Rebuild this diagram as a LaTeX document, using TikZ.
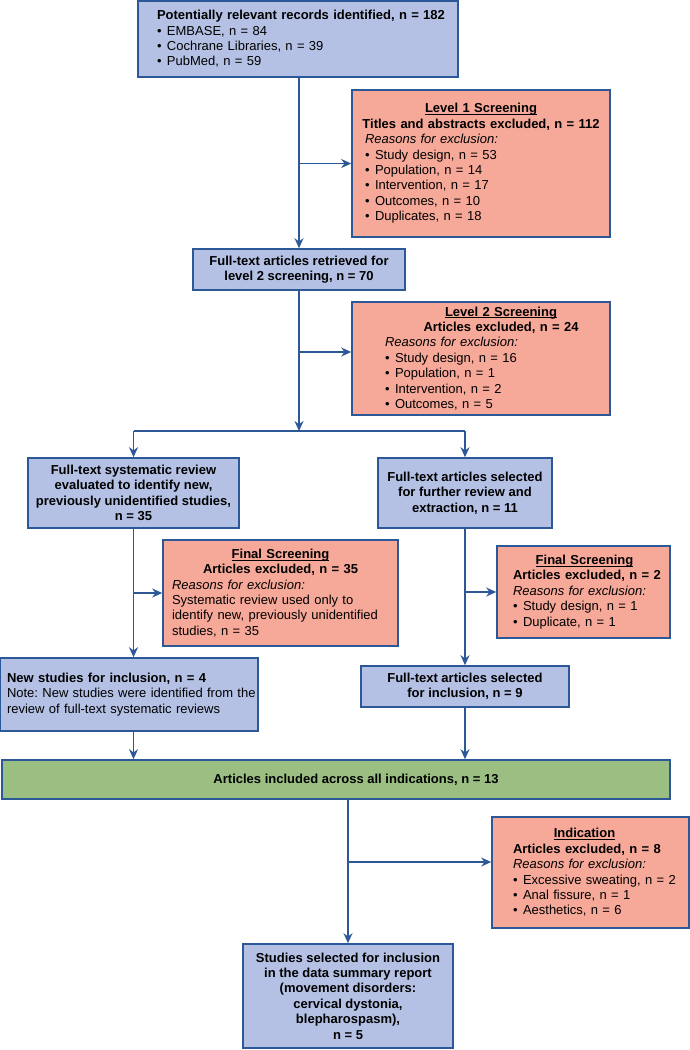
\documentclass[tikz,border=0pt]{standalone}
\usepackage{fontspec}
\setmainfont{Liberation Sans}
\usetikzlibrary{arrows.meta,positioning}
\definecolor{boxblue}{RGB}{180,193,228}
\definecolor{edgeblue}{RGB}{44,88,152}
\definecolor{exred}{RGB}{246,168,153}
\definecolor{incgreen}{RGB}{155,190,130}
\newcommand{\ctrline}[2][0pt]{\makebox[\linewidth][c]{\hspace*{#1}#2}}
\newcommand{\bul}{\makebox[10pt][l]{\textbullet}}
\newcommand{\ttl}[1]{\underline{\raisebox{0pt}[\height][0pt]{\textbf{#1}}}}
\frenchspacing

\begin{document}
\begin{tikzpicture}[x=1pt, y=-1pt,
	blk/.style={draw=edgeblue, line width=1.6pt, inner sep=0pt, font=\fontsize{13}{15.4}\selectfont\frenchspacing},
	incl/.style={blk, fill=boxblue},
	excl/.style={blk, fill=exred, align=left},
	total/.style={blk, fill=incgreen},
	arr/.style={draw=edgeblue, line width=1.6pt, -{Stealth[length=10pt,width=9pt]}}]
	\useasboundingbox (0,0) rectangle (690,1050);
	% records and level 1
	\node[incl, align=left, minimum width=320, minimum height=76, text width=282] (recs) at (298,39)
		{\mbox{\textbf{Potentially relevant records identified, n = 182}}\\
		 \bul EMBASE, n = 84\\ \bul Cochrane Libraries, n = 39\\ \bul PubMed, n = 59};
	\node[excl, minimum width=258, minimum height=147, text width=232] (lvl1) at (481,163.5)
		{\ctrline{\ttl{Level 1 Screening}}\\
		 \ctrline{\textbf{Titles and abstracts excluded, n = 112}}\\
		 \textit{Reasons for exclusion:}\\
		 \bul Study design, n = 53\\ \bul Population, n = 14\\ \bul Intervention, n = 17\\
		 \bul Outcomes, n = 10\\ \bul Duplicates, n = 18};
	\node[incl, align=center, minimum width=212, minimum height=41] (ret) at (299,269.5)
		{\textbf{Full-text articles retrieved for}\\ \textbf{level 2 screening, n = 70}};
	% level 2
	\node[excl, minimum width=258, minimum height=113, text width=192] (lvl2) at (481,358.5)
		{\ctrline[40pt]{\ttl{Level 2 Screening}}\\
		 \ctrline[40pt]{\textbf{Articles excluded, n = 24}}\\
		 \textit{Reasons for exclusion:}\\
		 \bul Study design, n = 16\\ \bul Population, n = 1\\ \bul Intervention, n = 2\\
		 \bul Outcomes, n = 5};
	\coordinate (splitm) at (299,431);
	\coordinate (splitl) at (133.5,431);
	\coordinate (splitr) at (465,431);
	% left branch
	\node[incl, align=center, minimum width=211, minimum height=70] (review) at (133.5,493)
		{\textbf{Full-text systematic review}\\ \textbf{evaluated to identify new,}\\
		 \textbf{previously unidentified studies,}\\ \textbf{n = 35}};
	\node[excl, minimum width=235, minimum height=106, text width=217] (finl) at (280.5,593)
		{\ctrline{\ttl{Final Screening}}\\
		 \ctrline{\textbf{Articles excluded, n = 35}}\\
		 \textit{Reasons for exclusion:}\\
		 Systematic review used only to\\ \mbox{identify new, previously unidentified}\\ studies, n = 35};
	\node[incl, align=left, minimum width=258, minimum height=73, text width=244] (newst) at (129,694.5)
		{\textbf{New studies for inclusion, n = 4}\\
		 \mbox{Note: New studies were identified from the}\\ review of full-text systematic reviews};
	% right branch
	\node[incl, align=center, minimum width=174, minimum height=70] (further) at (465,493)
		{\textbf{Full-text articles selected}\\ \textbf{for further review and}\\ \textbf{extraction, n = 11}};
	\node[excl, minimum width=173, minimum height=92, text width=141] (finr) at (583.5,592)
		{\ctrline[2pt]{\ttl{Final Screening}}\\
		 \mbox{\textbf{Articles excluded, n = 2}}\\
		 \textit{Reasons for exclusion:}\\
		 \bul Study design, n = 1\\ \bul Duplicate, n = 1};
	\node[incl, align=center, minimum width=208, minimum height=41] (sel) at (465,686.5)
		{\textbf{Full-text articles selected}\\ \textbf{for inclusion, n = 9}};
	% all indications
	\node[total, align=center, minimum width=668, minimum height=39] (all) at (336,779.5)
		{\hspace*{40pt}\textbf{Articles included across all indications, n = 13}};
	\node[excl, minimum width=197, minimum height=111, text width=155] (indic) at (590.5,872.5)
		{\ctrline[-12pt]{\ttl{Indication}}\\
		 \mbox{\textbf{Articles excluded, n = 8}}\\
		 \textit{Reasons for exclusion:}\\
		 \mbox{\bul Excessive sweating, n = 2}\\ \bul Anal fissure, n = 1\\ \bul Aesthetics, n = 6};
	\node[incl, align=center, minimum width=210, minimum height=104] (summ) at (348,996)
		{\textbf{Studies selected for inclusion}\\ \textbf{in the data summary report}\\
		 \textbf{(movement disorders:}\\ \textbf{cervical dystonia,}\\
		 \textbf{blepharospasm),}\\ \textbf{n = 5}};
	% arrows
	\draw[arr] (ret.north |- recs.south) -- (ret.north);
	\draw[arr] (ret.north |- lvl1.west) -- (lvl1.west);
	\draw[arr] (ret.south) -- (splitm);
	\draw[arr] (ret.south |- 0,352) -- ([yshift=6.5pt]lvl2.west);
	\draw[draw=edgeblue, line width=1.6pt] (splitl) -- (splitr);
	\draw[arr] (splitl) -- (review.north);
	\draw[arr] (splitr) -- (further.north);
	\draw[arr] (review.south) -- (review.south |- newst.north);
	\draw[arr] (review.south |- finl.west) -- (finl.west);
	\draw[arr] (review.south |- newst.south) -- (review.south |- all.north);
	\draw[arr] (further.south) -- (sel.north);
	\draw[arr] (further.south |- finr.west) -- (finr.west);
	\draw[arr] (sel.south) -- (sel.south |- all.north);
	\draw[arr] (summ.north |- all.south) -- (summ.north);
	\draw[arr] (summ.north |- 0,862) -- ([yshift=10.5pt]indic.west);
\end{tikzpicture}
\end{document}
